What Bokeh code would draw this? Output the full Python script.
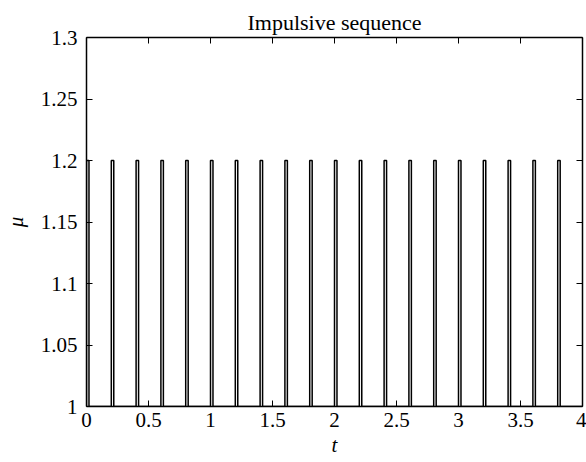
from bokeh.plotting import figure
from bokeh.models import LinearAxis, FixedTicker, Range1d
from bokeh.embed import file_html
from bokeh.resources import INLINE

# Data
pulse_starts = [0.0, 0.2, 0.4, 0.6, 0.8, 1.0, 1.2, 1.4, 1.6, 1.8,
                2.0, 2.2, 2.4, 2.6, 2.8, 3.0, 3.2, 3.4, 3.6, 3.8]
pulse_width = 0.02
mu_low = 1.0
mu_high = 1.2
t_end = 4.0
x_ticks = [0, 0.5, 1, 1.5, 2, 2.5, 3, 3.5, 4]
x_tick_labels = ["0", "0.5", "1", "1.5", "2", "2.5", "3", "3.5", "4"]
y_ticks = [1, 1.05, 1.1, 1.15, 1.2, 1.25, 1.3]
y_tick_labels = ["1", "1.05", "1.1", "1.15", "1.2", "1.25", "1.3"]

# Build step signal
ts, mus = [], []
for s in pulse_starts:
    ts += [s, s, s + pulse_width, s + pulse_width]
    mus += [mu_low, mu_high, mu_high, mu_low]
ts.append(t_end)
mus.append(mu_low)

FONT = "Liberation Serif"

p = figure(width=586, height=462, output_backend="svg", toolbar_location=None,
           x_range=Range1d(0, 4), y_range=Range1d(1, 1.3),
           min_border_left=86, min_border_right=4, min_border_top=37, min_border_bottom=56)

p.line(ts, mus, line_color="black", line_width=1.5)

p.title.text = "Impulsive sequence"
p.title.align = "center"
p.title.text_font = FONT
p.title.text_font_style = "normal"
p.title.text_font_size = "22px"
p.title.text_color = "black"
p.title.standoff = 6

p.grid.visible = False
p.outline_line_color = None

xt = FixedTicker(ticks=x_ticks)
yt = FixedTicker(ticks=y_ticks)

def style(ax):
    ax.major_tick_in = 6
    ax.major_tick_out = 0
    ax.minor_tick_in = 0
    ax.minor_tick_out = 0
    ax.axis_line_color = "black"
    ax.axis_line_width = 1.5
    ax.major_tick_line_color = "black"
    ax.major_label_text_font = FONT
    ax.major_label_text_font_size = "21px"
    ax.major_label_text_color = "black"
    ax.axis_label_text_font = FONT
    ax.axis_label_text_font_size = "21px"
    ax.axis_label_text_font_style = "italic"
    ax.axis_label_text_color = "black"

xa = p.xaxis[0]
xa.ticker = xt
xa.major_label_overrides = {t: l for t, l in zip(x_ticks, x_tick_labels)}
xa.axis_label = "t"
xa.axis_label_standoff = 3
style(xa)
xa.major_label_standoff = 6

ya = p.yaxis[0]
ya.ticker = yt
ya.major_label_overrides = {t: l for t, l in zip(y_ticks, y_tick_labels)}
ya.axis_label = "μ"
ya.axis_label_standoff = 10
style(ya)
ya.major_label_standoff = 9

top = LinearAxis(ticker=xt)
style(top)
top.major_label_overrides = {t: "" for t in x_ticks}
top.major_label_standoff = 0
p.add_layout(top, "above")
right = LinearAxis(ticker=yt)
style(right)
right.major_label_overrides = {t: "" for t in y_ticks}
right.major_label_standoff = 0
p.add_layout(right, "right")

open("out.html", "w").write(file_html(p, INLINE))
